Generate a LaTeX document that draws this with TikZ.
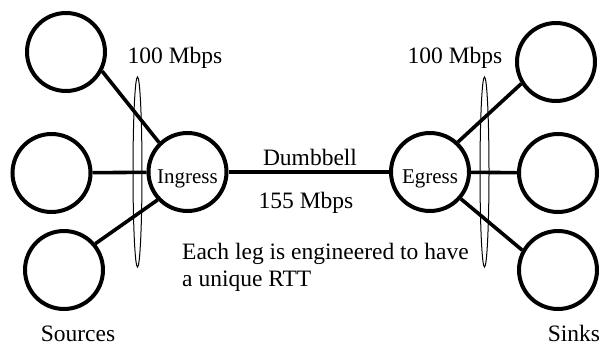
\documentclass[tikz,border=0pt]{standalone}
\usepackage{fontspec}
\setmainfont{Liberation Serif}
\newfontfamily\timesfont{Liberation Serif}
\tikzset{
  host/.style   = {circle, draw=black, line width=4pt, minimum size=78pt, inner sep=0pt},
  router/.style = {host, font=\timesfont\fontsize{21}{24}\selectfont, text height=22pt, text depth=0pt},
  link/.style   = {line width=3.6pt, draw=black},
  legs/.style   = {line width=1pt, draw=black},
  lbl/.style    = {font=\timesfont\fontsize{23.5}{27}\selectfont, anchor=base, inner sep=0pt},
}
\begin{document}
\begin{tikzpicture}[x=1pt, y=-1pt]
  \useasboundingbox (0,0) rectangle (608,345);
  % end hosts and the two routers
  \node[host] (srcA) at (66,52) {};
  \node[host] (srcB) at (51.5,173) {};
  \node[host] (srcC) at (64,270) {};
  \node[router] (ingress) at (187.5,172) {Ingress};
  \node[router] (egress) at (430,172) {Egress};
  \node[host] (snkA) at (556,62) {};
  \node[host] (snkB) at (558,173) {};
  \node[host] (snkC) at (558,270) {};

  % labels
  \node[lbl] (bwL) at (175,64) {100 Mbps};
  \node[lbl] (bwR) at (455,64) {100 Mbps};
  \node[lbl] (dumb) at (310,165) {Dumbbell};
  \node[lbl] (core) at (306,208) {155 Mbps};
  \node[lbl, anchor=base west, align=left] (note) at (182,286) {Each leg is engineered to have\\a unique RTT};
  \node[lbl] (src) at (78,341) {Sources};
  \node[lbl] (snk) at (574,341) {Sinks};

  % access links
  \draw[link] (srcA.-28) -- (ingress.134);
  \draw[link] (srcB) -- (ingress);
  \draw[link] (srcC.40) -- (ingress.-137);
  \draw[link] (ingress) -- (egress);
  \draw[link] (egress.47) -- (snkA.-148);
  \draw[link] (egress) -- (snkB);
  \draw[link] (egress.-41) -- (snkC.151);

  % leg groups
  \draw[legs] (137.5,172) ellipse [x radius=4.5, y radius=95];
  \draw[legs] (484.5,172) ellipse [x radius=4.5, y radius=95];
\end{tikzpicture}
\end{document}
